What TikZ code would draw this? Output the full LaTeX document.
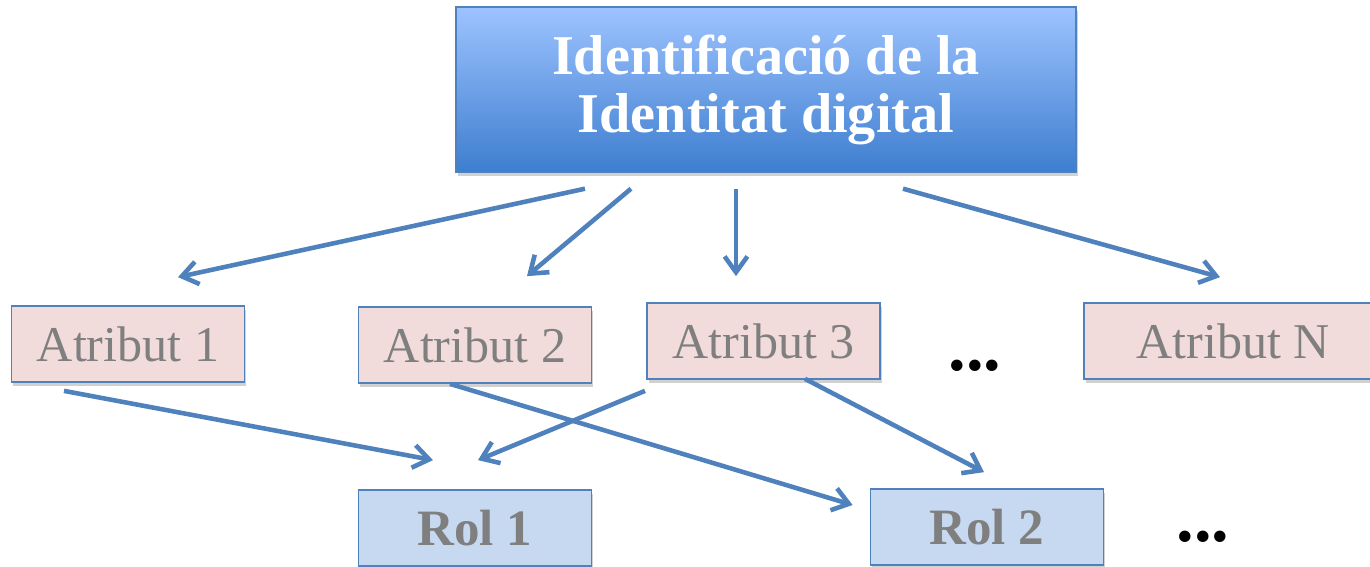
\documentclass[tikz,border=0pt]{standalone}
\usepackage{fontspec}
\setmainfont{Liberation Serif}
\usetikzlibrary{arrows.meta,shadows}
\definecolor{vora}{HTML}{4F81BD}
\definecolor{rosa}{HTML}{F2DCDB}
\definecolor{blaucel}{HTML}{C6D9F1}
\definecolor{gris}{HTML}{7F7F7F}
\definecolor{blaudalt}{HTML}{9DC3FF}
\definecolor{blaubaix}{HTML}{3E7ECF}
\begin{document}
\begin{tikzpicture}[x=0.02cm, y=-0.02cm,
  ombra/.style={drop shadow={shadow xshift=1pt, shadow yshift=-2.5pt, opacity=0.3, fill=black!60}},
  capsa/.style={draw=vora, line width=0.8pt, top color=blaudalt, bottom color=blaubaix,
    text=white, align=center, font=\fontsize{32}{33}\selectfont\bfseries,
    minimum width=12.4cm, minimum height=3.3cm, inner sep=0pt, ombra},
  atribut/.style={draw=vora, line width=1pt, fill=rosa, text=gris, inner sep=0pt,
    minimum width=4.66cm, minimum height=1.52cm, font=\fontsize{28.5}{32}\selectfont, ombra},
  rol/.style={atribut, fill=blaucel, font=\fontsize{29}{32}\selectfont\bfseries},
  fletxa/.style={draw=vora, line width=2.6pt, -{Straight Barb[length=9pt,width=13pt]}},
  punts/.style={font=\fontsize{40}{40}\selectfont\bfseries, inner sep=0pt}]
\useasboundingbox (0,0) rectangle (1370,566);

% Identificacio
\node[capsa] (idd) at (766,89.5) {Identificació de la\\Identitat digital};

% Atributs
\node[atribut] (a1) at (128,344) {Atribut 1};
\node[atribut] (a2) at (475,345) {Atribut 2};
\node[atribut] (a3) at (763.5,341) {Atribut 3};
\node[atribut, minimum width=5.96cm] (aN) at (1233,341) {Atribut N};
\node[punts] (p1) at (975,366) {...};

% Rols
\node[rol] (r1) at (475,528) {Rol 1};
\node[rol] (r2) at (987,527) {Rol 2};
\node[punts] (p2) at (1203,537) {...};

% Connexions
\draw[fletxa] ([shift={(-181,16)}]idd.south) -- ([shift={(50,-28)}]a1.north);
\draw[fletxa] ([shift={(-135,16)}]idd.south) -- ([shift={(52,-30)}]a2.north);
\draw[fletxa] ([shift={(-30,16)}]idd.south) -- ([shift={(-27.5,-26)}]a3.north);
\draw[fletxa] ([shift={(137,16)}]idd.south) -- ([shift={(-13,-25)}]aN.north);
\draw[fletxa] ([shift={(-64,8)}]a1.south) -- ([shift={(-42,-29)}]r1.north);
\draw[fletxa] ([shift={(-118.5,11)}]a3.south) -- ([shift={(3,-29)}]r1.north);
\draw[fletxa] ([shift={(-25,0)}]a2.south) -- ([shift={(-17,-22)}]r2.west);
\draw[fletxa] ([shift={(41.5,-1)}]a3.south) -- ([shift={(-3,-16)}]r2.north);

\end{tikzpicture}
\end{document}
